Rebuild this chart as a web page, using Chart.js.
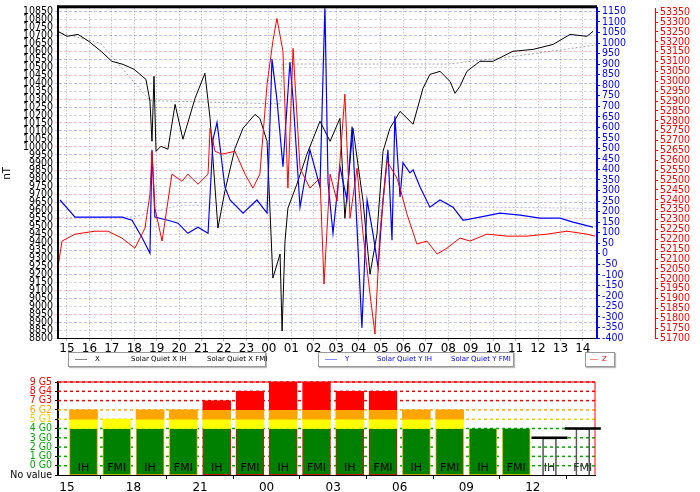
<!DOCTYPE html>
<html>
<head>
<meta charset="utf-8">
<script src="https://cdn.jsdelivr.net/npm/chart.js@4.4.1/dist/chart.umd.min.js"></script>
<style>
  body { margin: 0; background: #fff; width: 700px; height: 492px; position: relative; overflow: hidden; font-family: "DejaVu Sans", sans-serif; }
  #top { position: absolute; left: 0; top: 0; }
  #bottom { position: absolute; left: 0; top: 370px; }
  .leg { position: absolute; top: 352px; height: 13px; border: 1px solid #999; box-shadow: 1px 1px 1px #bbb; font-size: 7px; line-height: 13px; white-space: nowrap; background: #fff; }
  .leg span { position: absolute; }
  .sw { display: inline-block; width: 12px; height: 0; border-top: 1px solid; vertical-align: middle; margin-right: 8px; }
</style>
</head>
<body>
<canvas id="top" width="700" height="355"></canvas>
<div class="leg" style="left:68px;width:196px;color:#000">
  <span style="left:6px"><i class="sw" style="border-color:#888"></i>X</span>
  <span style="left:62px">Solar Quiet X IH</span>
  <span style="left:138px">Solar Quiet X FMI</span>
</div>
<div class="leg" style="left:318px;width:194px;color:#00f">
  <span style="left:6px"><i class="sw" style="border-color:#88f"></i>Y</span>
  <span style="left:58px">Solar Quiet Y IH</span>
  <span style="left:132px">Solar Quiet Y FMI</span>
</div>
<div class="leg" style="left:585px;width:28px;color:#f00">
  <span style="left:4px"><i class="sw" style="border-color:#f88;width:8px;margin-right:4px"></i>Z</span>
</div>
<canvas id="bottom" width="700" height="122"></canvas>
<script>
// hours since 15:00 on day 1
const hourLabels = ['15','16','17','18','19','20','21','22','23','00','01','02','03','04','05','06','07','08','09','10','11','12','13','14'];

const xTimes = [-0.40,0,0.49,0.98,1.52,2.0,2.5,2.99,3.52,3.70,3.79,3.88,3.97,4.19,4.50,4.82,5.17,5.71,6.15,6.38,6.73,7.04,7.49,7.85,8.38,8.60,8.92,9.18,9.50,9.59,9.72,9.85,10.25,10.70,11.28,11.73,12.17,12.39,12.75,13.20,13.51,13.82,14.09,14.40,14.85,15.43,15.87,16.18,16.63,17.08,17.30,17.52,17.83,18.41,18.99,19.88,20.78,21.67,22.43,23.18,23.45];
const xValues = [10725,10694,10706,10662,10600,10537,10518,10487,10424,10286,10035,10443,9972,10004,9985,10267,10048,10305,10462,10179,9490,9722,9991,10117,10204,10179,10035,9176,9327,8844,9408,9615,9766,9954,10161,10035,10179,9552,10117,9659,9201,9452,9972,10117,10223,10142,10367,10455,10474,10411,10336,10380,10474,10537,10537,10600,10612,10643,10706,10694,10725];

const yTimes = [-0.31,0.36,1.25,2.45,2.90,3.34,3.70,3.79,3.92,4.50,4.95,5.39,5.84,6.29,6.51,6.69,7.04,7.27,7.85,8.47,8.92,9.14,9.36,9.63,9.94,10.08,10.39,10.83,11.28,11.50,11.64,11.86,12.17,12.48,12.71,13.15,13.38,13.64,13.87,14.09,14.31,14.49,14.62,14.85,14.98,15.29,15.43,15.74,16.18,16.63,17.21,17.66,18.41,19.30,20.20,21.09,21.98,22.56,23.45];
const yValues = [255,174,174,174,159,78,2,494,174,159,145,97,126,97,542,623,317,255,193,255,193,924,733,413,910,733,221,494,317,1177,336,97,413,255,604,-352,255,97,-65,255,494,64,652,269,432,384,398,317,221,255,221,159,174,193,183,169,169,150,126];

const zTimes = [-0.45,-0.22,0.36,1.25,1.83,2.45,3.03,3.48,3.70,3.79,3.92,4.24,4.68,5.13,5.39,5.84,6.29,6.38,6.60,6.91,7.49,7.94,8.29,8.60,8.92,9.18,9.36,9.63,9.85,10.08,10.39,10.83,11.28,11.46,11.73,12.04,12.39,12.62,12.93,13.20,13.51,13.73,13.95,14.27,14.71,14.85,15.16,15.60,16.05,16.50,16.94,17.52,17.97,18.72,19.62,20.51,21.40,22.29,23.18,23.54];
const zValues = [52024,52191,52226,52241,52241,52206,52155,52257,52429,52646,52358,52191,52530,52494,52530,52479,52530,52763,52646,52631,52646,52530,52459,52530,52985,53203,53319,53152,52459,53167,52560,52459,52510,51973,52530,52393,52935,52307,52560,52226,51923,51720,52226,52596,52510,52459,52327,52176,52191,52125,52155,52206,52191,52226,52216,52216,52226,52241,52226,52216];

const quietXTimes = [-0.4,1.5,3.7,9.5,9.6,17,20,23.6];
const quietXValues = [10720,10650,10290,10270,10520,10520,10570,10640];
const quietYTimes = [-0.4,3,5,12,23.6];
const quietYValues = [170,175,230,230,215];

// Kp index per 1.5 h bar (IH / FMI alternating)
const kpTimes = [0.75,2.25,3.75,5.25,6.75,8.25,9.75,11.25,12.75,14.25,15.75,17.25,18.75,20.25,21.75,23.25];
const kpValues = [6,5,6,6,7,8,9,9,8,8,6,6,4,4,3,4];
const kpFinal = [true,true,true,true,true,true,true,true,true,true,true,true,true,true,false,false];
const kpSources = ['IH','FMI'];
const kpTickLabels = ['No value','0 G0','1 G0','2 G0','3 G0','4 G0','5 G1','6 G2','7 G3','8 G4','9 G5'];
const kpTickColors = ['#000','#0a0','#0a0','#0a0','#0a0','#0a0','#e8d000','orange','red','red','red'];

const pts = (t, v) => t.map((x, i) => ({x: x, y: v[i]}));
const hourTick = v => { const i = Math.round(v); return hourLabels[i] !== undefined ? hourLabels[i] : ''; };
const plain = v => String(v);
const fontC = {family: 'DejaVu Sans Condensed, DejaVu Sans', size: 10.5};
const gridCols = ['rgba(255,0,0,0.25)','rgba(0,0,0,0.15)','rgba(0,0,255,0.25)'];

function stepTicks(step) {
  return function(scale) {
    const t = [];
    for (let v = Math.ceil(scale.min / step) * step; v <= scale.max; v += step) t.push({value: v});
    scale.ticks = t;
  };
}

new Chart(document.getElementById('top'), {
  type: 'line',
  data: {
    datasets: [
      {data: pts(quietXTimes, quietXValues), borderColor: 'rgba(0,0,0,0.35)', borderDash: [2,2], borderWidth: 1, yAxisID: 'y'},
      {data: pts(quietYTimes, quietYValues), borderColor: 'rgba(0,0,255,0.3)', borderDash: [2,2], borderWidth: 1, yAxisID: 'yb'},
      {data: pts(zTimes, zValues), borderColor: '#f00', borderWidth: 1, yAxisID: 'yr'},
      {data: pts(yTimes, yValues), borderColor: '#00f', borderWidth: 1.2, yAxisID: 'yb'},
      {data: pts(xTimes, xValues), borderColor: '#000', borderWidth: 1, yAxisID: 'y'}
    ]
  },
  options: {
    responsive: false, animation: false,
    layout: {padding: {top: 3, right: 0, left: 0, bottom: 0}},
    elements: {point: {radius: 0}, line: {tension: 0}},
    plugins: {legend: {display: false}, tooltip: {enabled: false}},
    scales: {
      x: {
        type: 'linear', min: -0.4, max: 23.63,
        afterBuildTicks: stepTicks(1),
        afterFit: s => { s.height = 17; },
        ticks: {callback: hourTick, color: '#000', font: {family: 'DejaVu Sans', size: 12}, padding: 1, maxRotation: 0, autoSkip: false},
        grid: {color: 'rgba(0,0,0,0.3)', tickLength: 3},
        border: {color: '#000', dash: [1,2]}
      },
      y: {
        position: 'left', min: 8800, max: 10870,
        afterBuildTicks: stepTicks(50),
        afterFit: s => { s.width = 58; },
        title: {display: true, text: 'nT', color: '#000', font: {size: 11}, padding: 0},
        ticks: {callback: plain, color: '#000', font: fontC, padding: 2, autoSkip: false},
        grid: {color: c => gridCols[c.index % 3], tickLength: 3},
        border: {color: '#000', width: 2, dash: [3,2]}
      },
      yb: {
        position: 'right', min: -400, max: 1165,
        afterBuildTicks: stepTicks(50),
        afterFit: s => { s.width = 58; },
        ticks: {callback: plain, color: '#00f', font: fontC, padding: 2, autoSkip: false},
        grid: {drawOnChartArea: false, color: '#00f', tickLength: 3},
        border: {color: '#00f', width: 2}
      },
      yr: {
        position: 'right', min: 51700, max: 53370,
        afterBuildTicks: stepTicks(50),
        afterFit: s => { s.width = 45; },
        ticks: {callback: plain, color: '#f00', font: fontC, padding: 2, autoSkip: false},
        grid: {drawOnChartArea: false, color: '#f00', tickLength: 3},
        border: {color: '#f00', width: 1}
      }
    }
  },
  plugins: [{
    id: 'topBorder',
    afterDraw(chart) {
      const a = chart.chartArea, c = chart.ctx;
      c.save(); c.fillStyle = '#000'; c.fillRect(a.left, a.top - 3, a.right - a.left, 3);
      c.fillRect(a.left - 1, a.top - 3, 2, a.bottom - a.top + 3); c.restore();
    }
  }]
});

// Kp bars: floating segments green / yellow / orange / red
const seg = (test, lo, hi) => kpValues.map((v, i) => ({v: v, i: i}))
  .filter(o => test(o.v, o.i))
  .map(o => ({x: kpTimes[o.i], y: [lo(o.v), hi(o.v)], v: o.v}));
const green = seg((v, i) => kpFinal[i], v => -1, v => Math.min(v, 4));
const yellow = seg((v, i) => kpFinal[i] && v >= 5, v => 4, v => 5);
const orange = seg((v, i) => kpFinal[i] && v >= 6, v => 5, v => 6);
const red = seg((v, i) => kpFinal[i] && v >= 7, v => 6, v => v);
const hollow = seg((v, i) => !kpFinal[i], v => -1, v => v);
const barCommon = {barThickness: 28, grouped: false};

new Chart(document.getElementById('bottom'), {
  type: 'bar',
  data: {
    datasets: [
      Object.assign({data: red, backgroundColor: '#ff0000', borderColor: '#f00', borderWidth: 1}, barCommon),
      Object.assign({data: orange, backgroundColor: 'orange', borderWidth: 0}, barCommon),
      Object.assign({data: yellow, backgroundColor: '#ffff00', borderWidth: 0}, barCommon),
      Object.assign({data: green, backgroundColor: '#008000', borderColor: green.map(p => p.v >= 7 ? '#f00' : (p.v >= 6 ? 'orange' : '#e8d000')), borderWidth: 1, borderSkipped: 'top'}, barCommon),
      {data: hollow, backgroundColor: 'rgba(0,0,0,0)', borderColor: '#555', borderWidth: 1, barThickness: 14, grouped: false}
    ]
  },
  options: {
    responsive: false, animation: false,
    layout: {padding: {top: 12, right: 105, left: 0, bottom: 0}},
    plugins: {legend: {display: false}, tooltip: {enabled: false}},
    scales: {
      x: {
        type: 'linear', min: -0.4, max: 23.8, offset: false,
        afterBuildTicks: stepTicks(3),
        afterFit: s => { s.height = 17; },
        ticks: {callback: hourTick, color: '#000', font: {family: 'DejaVu Sans', size: 12}, padding: 2, maxRotation: 0},
        grid: {drawOnChartArea: false, tickLength: 4, color: '#000'},
        border: {color: '#000', width: 1}
      },
      y: {
        min: -1, max: 9,
        afterBuildTicks: stepTicks(1),
        afterFit: s => { s.width = 58; },
        ticks: {callback: v => kpTickLabels[v + 1], color: c => kpTickColors[c.index], font: {family: 'DejaVu Sans Condensed, DejaVu Sans', size: 10.5}, padding: 3, autoSkip: false},
        grid: {drawOnChartArea: false, color: '#000', tickLength: 3},
        border: {color: '#000', width: 2}
      }
    }
  },
  plugins: [{
    id: 'kpExtras',
    beforeDatasetsDraw(chart) {
      // dashed level lines behind the bars
      const c = chart.ctx, ys = chart.scales.y, a = chart.chartArea;
      c.save(); c.lineWidth = 1.5; c.setLineDash([3, 3]);
      for (let k = 0; k <= 9; k++) {
        const py = ys.getPixelForValue(k);
        c.strokeStyle = kpTickColors[k + 1];
        c.beginPath(); c.moveTo(a.left, py); c.lineTo(a.right, py); c.stroke();
      }
      c.restore();
    },
    afterDatasetsDraw(chart) {
      const c = chart.ctx, xs = chart.scales.x, ys = chart.scales.y, a = chart.chartArea;
      c.save();
      c.strokeStyle = '#f00'; c.lineWidth = 1;
      c.beginPath(); c.moveTo(a.left, a.top); c.lineTo(a.right, a.top); c.lineTo(a.right, a.bottom); c.stroke();
      c.font = '11px "DejaVu Sans"'; c.textAlign = 'center'; c.textBaseline = 'bottom';
      kpTimes.forEach((t, i) => {
        const px = xs.getPixelForValue(t);
        if (!kpFinal[i]) {
          const py = ys.getPixelForValue(kpValues[i]);
          c.strokeStyle = '#000'; c.lineWidth = 2.5;
          c.beginPath(); c.moveTo(px - 18, py); c.lineTo(px + 18, py); c.stroke();
        }
        c.fillStyle = kpFinal[i] ? '#000' : '#333';
        c.fillText(kpSources[i % 2], px, ys.getPixelForValue(-0.9));
      });
      c.restore();
    }
  }]
});
</script>
</body>
</html>
